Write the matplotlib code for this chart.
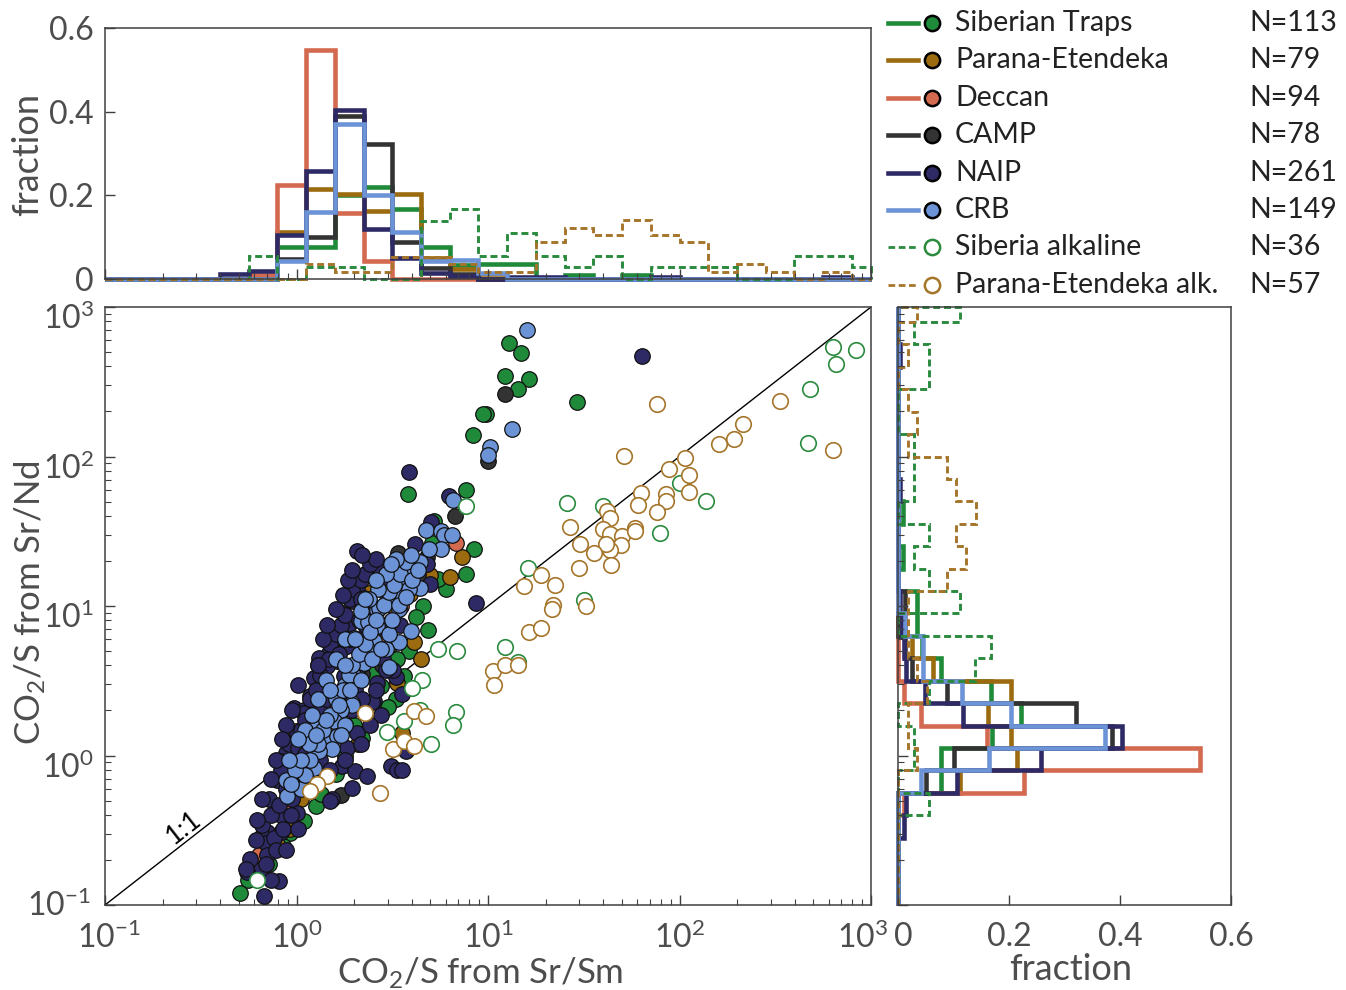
import numpy as np
import matplotlib
matplotlib.use("Agg")
import matplotlib.pyplot as plt
import matplotlib.transforms as mtransforms
from matplotlib.lines import Line2D
from matplotlib.ticker import FixedLocator

plt.rcParams['font.family'] = ['Lato', 'DejaVu Sans']
plt.rcParams['mathtext.fontset'] = 'custom'
plt.rcParams['mathtext.rm'] = 'Lato'
plt.rcParams['mathtext.it'] = 'Lato:italic'
plt.rcParams['mathtext.bf'] = 'Lato:bold'

# ---------------- data ----------------
series_names = ["Siberian Traps", "Parana-Etendeka", "Deccan", "CAMP", "NAIP", "CRB",
                "Siberia alkaline", "Parana-Etendeka alk."]
series_n = [113, 79, 94, 78, 261, 149, 36, 57]

# histogram bins: log10 edges, width 0.15 decade (last bin cut at the axis limit)
bin_edges_log = list(np.round(np.arange(-1.0, 2.95, 0.15), 2)) + [3.0]

# fractions per bin (Sr/Sm, top histogram)
siberian_frac_sm = [0,0,0,0,0,0, 0.077,0.077,0.20,0.22,0.167,0.077,0.034,0.035,0.035,0,0.009,0,0.009,0,0,0,0,0,0,0,0]
parana_frac_sm = [0,0,0,0,0,0, 0.112,0.215,0.203,0.163,0.203,0.05,0.025,0.013, 0,0,0,0,0,0,0,0,0,0,0,0,0]
deccan_frac_sm = [0,0,0,0,0, 0.01,0.225,0.548,0.158,0.044, 0,0,0,0,0,0,0,0,0,0,0,0,0,0,0,0,0]
camp_frac_sm = [0,0,0,0,0,0, 0.048,0.1,0.39,0.322,0.088,0.026,0.013, 0,0,0,0,0,0,0,0,0,0,0,0,0,0]
naip_frac_sm = [0,0,0,0, 0.011,0.019,0.104,0.257,0.405,0.119,0.05,0.015,0.008,0,0.004,0.004,0,0,0,0.004,0,0,0,0,0,0.004,0]
crb_frac_sm = [0,0,0,0,0,0, 0.042,0.161,0.37,0.2,0.112,0.042,0.046,0.015, 0,0,0,0,0,0,0,0,0,0,0,0,0]
sibalk_frac_sm = [0,0,0,0,0, 0.056,0,0.028,0.028,0,0,0.139,0.167,0.056,0.111,0.056,0.028,0.056,0,0.028,0.028,0.028,0,0,0.056,0.056,0.028]
paralk_frac_sm = [0,0,0,0,0,0,0, 0.035,0.0175,0.0175,0.053,0.053,0.035,0.0175,0.0175,0.088,0.123,0.105,0.14,0.105,0.088,0.0175,0.035,0.0175,0,0.0175,0]

# fractions per bin (Sr/Nd, right histogram)
siberian_frac_nd = [0,0,0,0,0, 0.078,0.078,0.17,0.221,0.167,0.078,0.044,0.035,0.035,0,0.009,0,0.009,0,0,0,0,0,0,0,0,0]
parana_frac_nd = [0,0,0,0,0, 0.112,0.215,0.203,0.163,0.203,0.063,0.025,0.013, 0,0,0,0,0,0,0,0,0,0,0,0,0,0]
deccan_frac_nd = [0,0,0,0, 0.011,0.227,0.545,0.16,0.042,0.011, 0,0,0,0,0,0,0,0,0,0,0,0,0,0,0,0,0]
camp_frac_nd = [0,0,0,0,0, 0.05,0.1,0.385,0.321,0.089,0.026,0.013,0,0.013, 0,0,0,0,0,0,0,0,0,0,0,0,0]
naip_frac_nd = [0,0,0, 0.011,0.015,0.106,0.258,0.403,0.118,0.048,0.015,0.01,0.008,0.004,0,0,0,0,0.004,0,0,0,0,0,0.004,0,0]
crb_frac_nd = [0,0,0,0,0, 0.042,0.164,0.373,0.203,0.115,0.045,0.045,0.013, 0,0,0,0,0,0,0,0,0,0,0,0,0,0]
sibalk_frac_nd = [0,0,0,0, 0.056,0,0.028,0.028,0,0.056,0.139,0.167,0,0.111,0.056,0.028,0.056,0,0.028,0.028,0.028,0,0,0.056,0.056,0.028,0.111]
paralk_frac_nd = [0,0,0,0,0,0, 0.035,0.0175,0.0175,0.053,0.035,0.0175,0.0175,0.0175,0.088,0.123,0.105,0.14,0.105,0.088,0.0175,0.035,0.0175,0,0.0175,0,0.035]

# scatter: CO2/S from Sr/Sm (x) and from Sr/Nd (y)
siberian_sm = [12.8, 14.8, 12.3, 16.4, 14.4, 9.8, 9.4, 8.3, 29.3, 3.8, 7.63, 5.13, 8.43, 7.63, 6.0,
               5.45, 4.6, 4.84, 3.86, 3.35, 2.75, 3.29, 3.64, 1.09, 0.93, 0.72, 0.56, 0.51, 1.26, 5.2,
               2.2, 1.6, 1.35, 0.85, 0.66, 2.5, 3.1, 4.2, 2.0, 1.8, 3.0]
siberian_nd = [576, 494, 348, 331, 281, 193, 193, 139, 232, 56, 59.3, 26.4, 23.9, 16.3, 12.9,
               15.2, 10.0, 6.96, 5.0, 4.43, 2.9, 2.37, 3.39, 0.364, 0.305, 0.187, 0.146, 0.12, 0.46, 37,
               1.3, 0.75, 0.55, 0.25, 0.2, 3.5, 5.6, 8.5, 1.6, 1.0, 2.1]

parana_sm = [7.3, 6.33, 4.11, 4.48, 3.35, 3.57, 0.79, 2.39, 2.43, 1.87, 1.5, 1.18, 1.05, 0.93, 3.1,
             5.0, 2.8, 1.3, 2.1, 3.9]
parana_nd = [21.4, 15.6, 5.7, 4.39, 3.07, 1.42, 0.254, 12.3, 5.0, 2.37, 1.49, 0.59, 0.51, 0.32, 10.2,
             16, 7.0, 0.9, 1.2, 12]

deccan_sm = [6.77, 0.64, 0.99, 1.3, 1.6, 2.0, 2.4, 1.1, 0.85, 2.9, 1.8, 3.5, 1.45]
deccan_nd = [26.2, 0.216, 1.45, 1.1, 2.0, 3.0, 4.5, 0.7, 0.45, 6.5, 1.6, 10, 1.3]

camp_sm = [12.3, 10.0, 6.7, 3.37, 4.78, 1.75, 2.8, 1.7, 0.777, 1.1, 1.4, 2.2, 2.6, 3.0, 1.9, 0.95, 4.3]
camp_nd = [263, 93, 40, 22.7, 21.3, 9.0, 4.06, 0.548, 0.43, 0.8, 1.8, 3.5, 7.0, 12, 2.4, 0.6, 16]

naip_sm = [63.5, 3.86, 6.24, 5.01, 4.15, 2.07, 8.7, 2.68, 3.12, 3.75, 4.83, 4.96, 3.32, 3.57, 3.1,
           3.35, 3.57, 3.71, 2.06, 2.25, 1.98, 1.63, 1.88, 1.57, 1.84, 1.47, 1.63, 1.31, 1.23, 1.36,
           1.45, 1.18, 0.97, 1.09, 1.77, 2.64, 1.95, 2.53, 2.75, 3.2, 2.83, 2.34, 2.53,
           1.09, 1.31, 2.48, 1.01, 2.07, 1.84, 0.88, 0.83, 1.73, 2.03, 2.34, 1.95, 1.54, 0.79, 0.777,
           0.825, 1.01, 0.7, 0.825, 0.66, 0.69, 0.76, 0.7, 0.65, 0.55, 0.675, 0.81, 1.14, 1.5,
           0.611, 0.66, 0.732, 0.715, 0.81, 0.877, 0.825, 0.931, 0.91, 1.02, 1.05, 1.11, 1.18, 1.26,
           1.33, 1.3, 1.47, 1.5, 1.6, 1.7, 1.8, 1.91, 1.95, 2.16, 2.29, 2.43, 2.59, 2.16, 2.11, 1.66,
           1.42, 1.21, 1.05, 0.95, 0.855, 0.777, 0.689, 1.11, 1.7, 2.03,
           1.6, 1.75, 1.85, 1.95, 2.21, 1.37, 1.45, 1.3, 1.02, 0.95,
           0.877, 0.845, 0.777, 0.732, 0.66, 0.62, 0.575, 0.542, 0.931, 1.02, 0.877, 0.732, 1.33,
           1.26, 1.5, 1.8, 2.16, 2.43, 2.21, 2.59, 2.92, 2.16, 1.91, 2.29, 2.75, 3.29, 3.85, 3.49]
naip_nd = [469, 79, 54.8, 36.2, 26, 23.3, 10.4, 18.5, 17.7, 19, 19.2, 14.1, 3.36, 2.56, 0.85,
           0.806, 0.806, 1.07, 12.9, 11.3, 10.8, 6.8, 7.6, 5.8, 5.38, 4.86, 4.27, 4.5, 3.3, 2.98,
           3.95, 2.5, 2.08, 2.03, 3.39, 3.07, 2.03, 2.31, 1.88, 3.76, 4.43, 6.96, 9.0,
           1.93, 2.03, 2.27, 1.42, 1.42, 1.13, 1.04, 0.92, 0.85, 0.785, 0.73, 0.61, 0.508, 0.69, 0.435,
           0.403, 0.413, 0.31, 0.31, 0.288, 0.26, 0.28, 0.216, 0.173, 0.166, 0.115, 0.145, 0.66, 0.5,
           0.274, 0.345, 0.403, 0.508, 0.47, 0.593, 0.806, 0.94, 1.19, 1.13, 1.49, 1.74, 2.37, 2.76,
           3.48, 4.06, 4.39, 5.53, 6.45, 7.52, 8.77, 11.1, 12.9, 15, 16.3, 19, 20.5, 11.1, 8.12, 4.74,
           2.37, 1.49, 0.746, 0.508, 0.32, 0.235, 0.187, 1.02, 2.37, 2.76,
           9.48, 11.9, 15, 17.5, 22.1, 5.97, 7.52, 4.06, 2.98, 2.03,
           1.61, 1.28, 0.94, 0.691, 0.508, 0.373, 0.202, 0.173, 0.403, 0.32, 0.235, 0.148, 0.94,
           0.691, 0.806, 0.94, 1.19, 1.61, 2.37, 2.76, 3.76, 4.06, 5.97, 7.52, 15, 11.1, 12.9, 7.52]

crb_sm = [15.9, 13.3, 10.2, 10.0, 6.58, 4.72, 5.65, 5.9, 6.5, 5.65, 4.39, 3.86, 3.57, 4.44, 3.98,
          3.42, 3.03, 2.92, 2.53, 2.26, 2.64, 3.1, 3.45, 2.16, 2.36, 2.64, 2.0, 2.34, 3.42, 2.97,
          3.86, 3.0, 2.69, 2.12, 1.8, 2.0, 1.95, 1.71, 1.95, 1.7, 1.57, 1.8, 1.28, 1.18, 1.45,
          1.63, 1.54, 1.31, 1.11, 1.23, 1.01, 0.88, 0.895,
          1.05, 1.11, 1.18, 1.3, 1.37, 1.5, 1.6, 1.74, 1.87, 1.96, 2.11, 2.29, 2.43, 2.59, 2.85,
          3.03, 3.22, 3.49, 3.71, 3.94, 3.29, 2.92, 2.68, 2.38, 2.16, 1.8, 1.6, 1.42, 1.3, 1.11,
          0.988, 0.931,
          1.05, 1.16, 1.26, 1.42, 1.66, 1.91, 2.16, 2.49, 2.75, 3.03, 3.17, 3.42, 3.71, 4.03, 4.33,
          4.89, 2.03, 1.8, 1.5, 1.21, 1.02, 0.91, 2.29, 2.59, 3.1, 1.7]
crb_nd = [700, 153, 116, 101.6, 51, 32, 31.6, 30, 30, 23.9, 19.6, 15.8, 15.2, 13.2, 6.8,
          5.7, 3.92, 5.12, 5.8, 4.17, 9.47, 7.9, 9.6, 7.9, 7.8, 7.4, 6.1, 5.12, 12.3, 11.9,
          12.9, 10.8, 9.7, 3.3, 2.98, 3.39, 2.25, 2.14, 2.19, 2.03, 1.7, 1.59, 1.61, 1.35, 1.28,
          1.35, 1.1, 1.07, 0.92, 0.83, 0.806, 0.69, 0.535,
          0.593, 0.746, 0.94, 1.19, 1.49, 1.88, 2.37, 2.76, 3.48, 4.06, 4.74, 5.53, 6.75, 8.12, 10.2,
          12.5, 13.9, 16.3, 19.8, 22.1, 20.5, 16.3, 12.9, 11.1, 9.2, 5.97, 4.39, 3.22, 2.37, 1.49,
          0.806, 0.64,
          0.94, 1.19, 1.38, 1.74, 2.19, 2.76, 3.22, 4.39, 5.12, 6.45, 8.12, 10.2, 11.4, 15, 17.5,
          23.9, 5.97, 4.06, 2.76, 1.88, 1.28, 0.94, 11.1, 15, 19, 1.38]

sibalk_sm = [632, 830, 653, 479, 468, 137, 101, 78.9, 25.9, 39.9, 16.2, 31.9, 7.7, 0.62,
             6.77, 6.6, 5.01, 3.66, 2.97, 4.44, 5.45, 6.85, 4.54, 4.02, 12.2, 14.3]
sibalk_nd = [542, 514, 413, 281, 124, 50.2, 66.7, 30.9, 49, 47, 18, 10.9, 46.5, 0.146,
             1.95, 1.59, 1.2, 1.7, 1.43, 2.03, 5.12, 4.97, 3.18, 2.85, 5.28, 4.19]

paralk_sm = [76.5, 51.2, 333, 632, 215, 192, 160, 107, 88, 112, 112, 63, 60.8, 85, 85, 76.5,
             41.9, 43.6, 39.8, 43.3, 50.2, 58.9, 58.9, 49.6, 43.3, 41.1, 35.7, 30.2, 26.7, 44, 29.8,
             18.8, 15.5, 22.5, 21.9, 32.3,
             2.29, 4.1, 4.72, 3.2, 3.66, 4.13, 1.45, 1.28, 1.18, 2.72,
             10.6, 10.7, 12.2, 14.4, 16.3, 19, 21.7]
paralk_nd = [223, 100.5, 234, 111, 164, 131, 122, 97, 82.7, 75, 58, 57.2, 47.7, 55.7, 50.2, 42.7,
             43.1, 38.9, 32.8, 30.1, 29.3, 33.3, 31.6, 25.4, 23.6, 25.8, 22.7, 25.8, 33.7, 18.9, 18,
             16.1, 13.7, 13.8, 10.2, 10.0,
             1.93, 1.98, 1.83, 1.11, 1.25, 1.15, 0.727, 0.64, 0.577, 0.557,
             3.65, 2.98, 4.06, 4.06, 6.75, 7.18, 9.6]

# ---------------- styles ----------------
solid_colors = ['#1f8a3a', '#9c6b10', '#d36a50', '#333333', '#2e2a66', '#6c93d6']
alk_colors = ['#2a8a3e', '#a5752a']
text_col = '#4d4d4d'
spine_col = '#404040'
dash = (0, (2.4, 1.3))

W, H = 1346, 990
fig = plt.figure(figsize=(W / 100, H / 100), dpi=100)


def rect(l, t, r, b):
    return [l / W, 1 - b / H, (r - l) / W, (b - t) / H]


ax = fig.add_axes(rect(105, 307, 871, 905))
axt = fig.add_axes(rect(105, 28, 871, 279))
axr = fig.add_axes(rect(898, 307, 1231, 905))

edges = 10 ** np.array(bin_edges_log)

scatter_sets = [(siberian_sm, siberian_nd), (parana_sm, parana_nd), (deccan_sm, deccan_nd),
                (camp_sm, camp_nd), (naip_sm, naip_nd), (crb_sm, crb_nd)]
for (xs, ys), c in zip(scatter_sets, solid_colors):
    ax.scatter(xs, ys, s=125, c=c, edgecolors='#111111', linewidths=0.9, zorder=3)
for (xs, ys), c in zip([(sibalk_sm, sibalk_nd), (paralk_sm, paralk_nd)], alk_colors):
    ax.scatter(xs, ys, s=125, facecolors='white', edgecolors=c, linewidths=1.2, zorder=4)

ax.plot([0.1, 1000], [0.1, 1000], color='black', lw=1.0, zorder=2)
ax.text(0.257, 0.33, '1:1', rotation=38, ha='center', va='center', fontsize=19,
        rotation_mode='anchor', color='black')

ax.set_xscale('log')
ax.set_yscale('log')
ax.set_xlim(0.1, 1000)
ax.set_ylim(0.1, 1000)
decades = [0.1, 1, 10, 100, 1000]
ax.xaxis.set_major_locator(FixedLocator(decades))
ax.yaxis.set_major_locator(FixedLocator(decades))

# histograms
sm_fracs = [siberian_frac_sm, parana_frac_sm, deccan_frac_sm, camp_frac_sm, naip_frac_sm, crb_frac_sm]
nd_fracs = [siberian_frac_nd, parana_frac_nd, deccan_frac_nd, camp_frac_nd, naip_frac_nd, crb_frac_nd]
for f, c in zip(sm_fracs, solid_colors):
    axt.stairs(f, edges, color=c, lw=3.3, clip_on=False)
for f, c in zip(nd_fracs, solid_colors):
    axr.stairs(f, edges, orientation='horizontal', color=c, lw=3.3, clip_on=False)
for f, c in zip([sibalk_frac_sm, paralk_frac_sm], alk_colors):
    axt.stairs(f, edges, color=c, lw=2.1, linestyle=dash, clip_on=False)
for f, c in zip([sibalk_frac_nd, paralk_frac_nd], alk_colors):
    axr.stairs(f, edges, orientation='horizontal', color=c, lw=2.1, linestyle=dash, clip_on=False)

axt.set_xscale('log')
axt.set_xlim(0.1, 1000)
axt.set_ylim(0, 0.6)
axt.set_yticks([0, 0.2, 0.4, 0.6])
axt.set_yticklabels(['0', '0.2', '0.4', '0.6'])
axt.tick_params(axis='x', labelbottom=False)

axr.set_yscale('log')
axr.set_ylim(0.1, 1000)
axr.set_xlim(0, 0.6)
axr.set_xticks([0, 0.2, 0.4, 0.6])
axr.set_xticklabels(['0', '0.2', '0.4', '0.6'])
axr.tick_params(axis='y', labelleft=False)

for a in (ax, axt, axr):
    for s in a.spines.values():
        s.set_color(spine_col)
        s.set_linewidth(1.1)
    a.tick_params(which='major', direction='in', length=7, width=1.0, color=spine_col,
                  labelsize=23, labelcolor=text_col, top=False, right=False, pad=8)
    a.tick_params(which='minor', direction='in', length=4, width=0.8, color=spine_col,
                  top=False, right=False)
ax.tick_params(axis='x', which='major', pad=12)
axr.tick_params(axis='x', which='major', pad=12)

# small label nudges like the reference
down = mtransforms.ScaledTranslation(0, -6.5 / 72, fig.dpi_scale_trans)
yt = ax.yaxis.get_major_ticks()
for t in yt[1:]:
    t.label1.set_transform(t.label1.get_transform() + down)
yt[0].label1.set_transform(yt[0].label1.get_transform() +
                           mtransforms.ScaledTranslation(-2 / 72, 2 / 72, fig.dpi_scale_trans))
xt = ax.xaxis.get_major_ticks()
xt[-1].label1.set_transform(xt[-1].label1.get_transform() +
                            mtransforms.ScaledTranslation(-6 / 72, 0, fig.dpi_scale_trans))
xt[0].label1.set_transform(xt[0].label1.get_transform() +
                           mtransforms.ScaledTranslation(3 / 72, 0, fig.dpi_scale_trans))
rt = axr.xaxis.get_major_ticks()
rt[0].label1.set_transform(rt[0].label1.get_transform() +
                           mtransforms.ScaledTranslation(4 / 72, 0, fig.dpi_scale_trans))

# axis labels
fig.text(480 / W, 1 - 973 / H, 'CO$_2$/S from Sr/Sm', fontsize=25, color=text_col, ha='center', va='center')
fig.text(30 / W, 1 - 603 / H, 'CO$_2$/S from Sr/Nd', fontsize=25, color=text_col, ha='center', va='center',
         rotation=90)
fig.text(28 / W, 1 - 155 / H, 'fraction', fontsize=26, color=text_col, ha='center', va='center', rotation=90)
fig.text(1071 / W, 1 - 970 / H, 'fraction', fontsize=26, color=text_col, ha='center', va='center')

# legend (drawn in a pixel-space overlay)
lg = fig.add_axes([0, 0, 1, 1])
lg.set_xlim(0, W)
lg.set_ylim(H, 0)
lg.axis('off')
row_y0, row_dy = 23, 37.4
for i, name in enumerate(series_names):
    y = row_y0 + i * row_dy
    if i < 6:
        c = solid_colors[i]
        lg.add_line(Line2D([888, 918], [y, y], color=c, lw=3.3))
        lg.plot([932], [y], 'o', ms=11, mfc=c, mec='black', mew=1.8)
    else:
        c = alk_colors[i - 6]
        lg.add_line(Line2D([888, 918], [y, y], color=c, lw=2.0, linestyle=dash))
        lg.plot([932], [y], 'o', ms=11, mfc='white', mec=c, mew=1.8)
    lg.text(955, y, name, fontsize=20.5, va='center', ha='left', color='#222222')
    lg.text(1249, y, 'N=%d' % series_n[i], fontsize=20.5, va='center', ha='left', color='#222222')

fig.savefig('out.png', dpi=100)
